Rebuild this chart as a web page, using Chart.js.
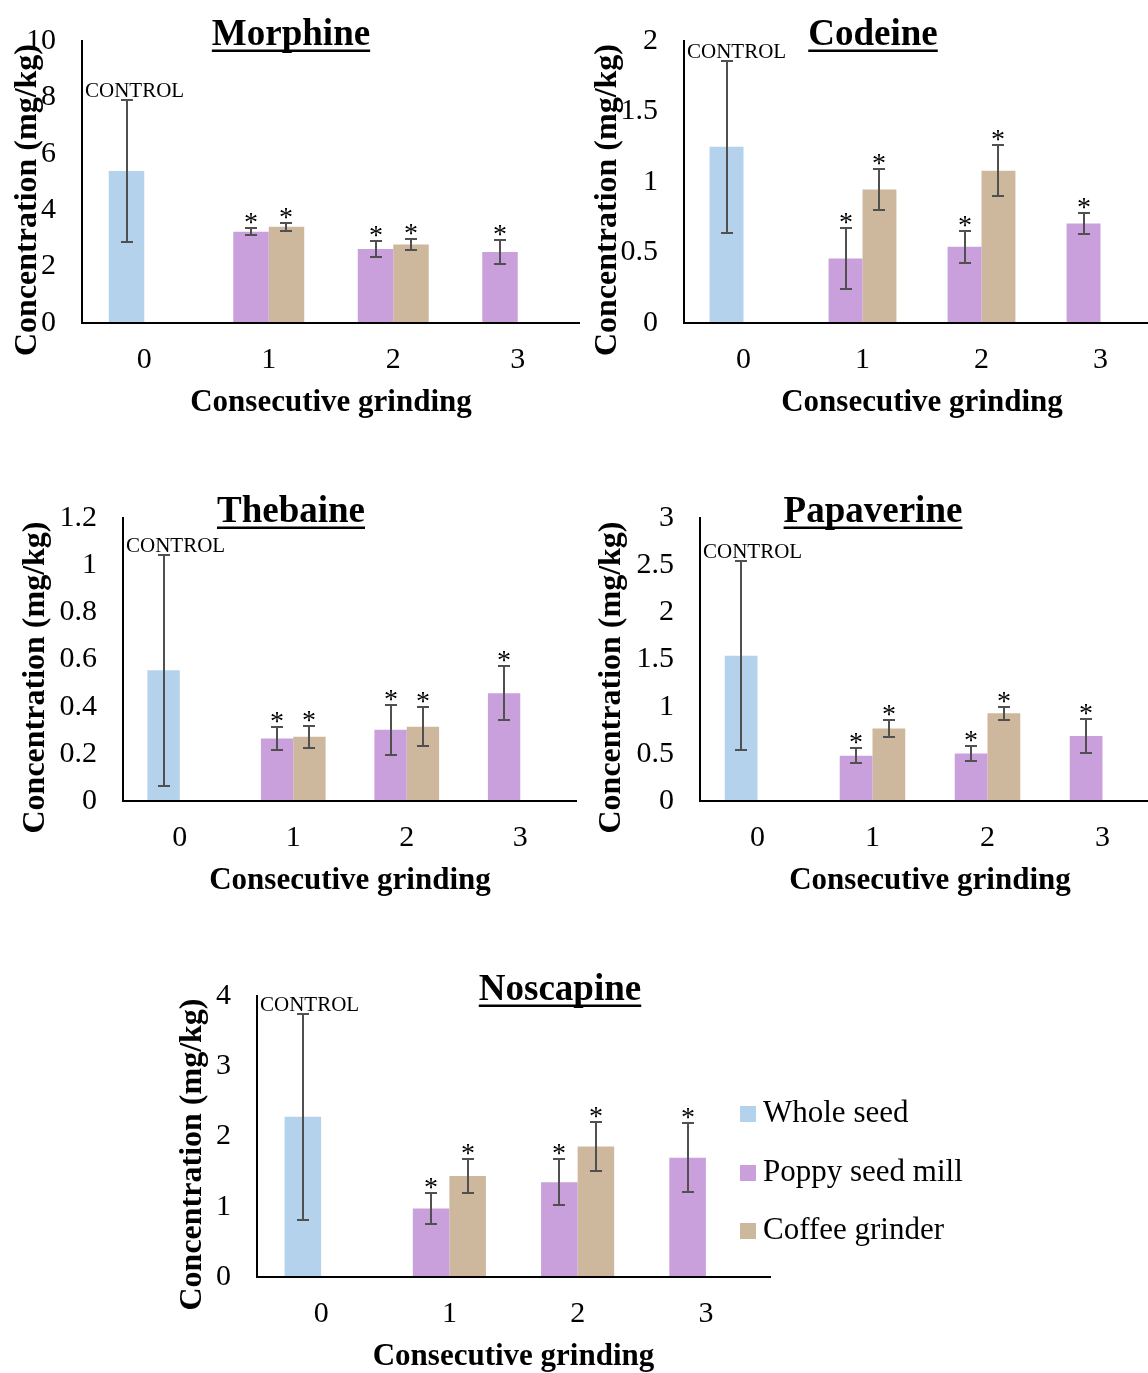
<!DOCTYPE html>
<html>
<head>
<meta charset="utf-8">
<title>Alkaloid concentration after consecutive grinding</title>
<script src="https://cdn.jsdelivr.net/npm/chart.js@4.4.1/dist/chart.umd.min.js"></script>
<style>
  html, body { margin: 0; padding: 0; background: #fff; }
  body { width: 1148px; height: 1373px; position: relative; overflow: hidden; }
  canvas { position: absolute; }
</style>
</head>
<body>
<canvas id="morphine"></canvas>
<canvas id="codeine"></canvas>
<canvas id="thebaine"></canvas>
<canvas id="papaverine"></canvas>
<canvas id="noscapine"></canvas>
<script>
// Data
const grindings = ['0', '1', '2', '3'];
const compounds = ['Morphine', 'Codeine', 'Thebaine', 'Papaverine', 'Noscapine'];
const seriesNames = ['Whole seed', 'Poppy seed mill', 'Coffee grinder'];

// whole seed (control), one value per compound
const wholeSeed = [5.39, 1.25, 0.554, 1.54, 2.28];
const wholeSeedErr = [2.51, 0.61, 0.49, 1.0, 1.47];

// poppy seed mill, grinding 1..3
const poppyMill = [
  [3.24, 2.62, 2.52],
  [0.458, 0.54, 0.706],
  [0.265, 0.302, 0.457],
  [0.479, 0.503, 0.688],
  [0.975, 1.349, 1.699]
];
const poppyMillErr = [
  [0.135, 0.28, 0.43],
  [0.218, 0.112, 0.072],
  [0.05, 0.105, 0.115],
  [0.079, 0.082, 0.176],
  [0.22, 0.325, 0.488]
];

// coffee grinder, grinding 1..2
const coffeeGrinder = [
  [3.41, 2.78],
  [0.946, 1.079],
  [0.272, 0.315],
  [0.769, 0.929],
  [1.437, 1.857]
];
const coffeeGrinderErr = [
  [0.145, 0.2],
  [0.148, 0.18],
  [0.047, 0.083],
  [0.087, 0.066],
  [0.247, 0.345]
];

const yMax = [10, 2, 1.2, 3, 4];
const yStep = [2, 0.5, 0.2, 0.5, 1];

const colors = ['#b4d2eb', '#c9a0dc', '#cdb89e'];

// where each panel's plot area sits on the page
const panels = [
  { id: 'morphine',   left: 82,  top: 37,  right: 580,  bottom: 323,  yTitleX: 28,  titleX: 291 },
  { id: 'codeine',    left: 684, top: 37,  right: 1160, bottom: 323,  yTitleX: 608, titleX: 873 },
  { id: 'thebaine',   left: 123, top: 514, right: 577,  bottom: 801,  yTitleX: 36,  titleX: 291 },
  { id: 'papaverine', left: 700, top: 514, right: 1160, bottom: 801,  yTitleX: 612, titleX: 873 },
  { id: 'noscapine',  left: 257, top: 992, right: 770,  bottom: 1277, yTitleX: 193, titleX: 560, extraRight: 230 }
];

Chart.defaults.font.family = "'Liberation Serif', 'Times New Roman', serif";
Chart.defaults.color = '#000';

// error bars, asterisks, CONTROL tag, titles and legend
const extras = {
  id: 'extras',
  afterDatasetsDraw(chart, args, opts) {
    const ctx = chart.ctx;
    const area = chart.chartArea;
    const yScale = chart.scales.y;
    const fam = Chart.defaults.font.family;
    ctx.save();
    chart.data.datasets.forEach((ds, di) => {
      const meta = chart.getDatasetMeta(di);
      meta.data.forEach((bar, j) => {
        const v = ds.data[j];
        if (v == null) return;
        const e = ds.errors[j];
        const x = Math.round(bar.x);
        const yTop = Math.round(yScale.getPixelForValue(v + e));
        const yBot = Math.round(yScale.getPixelForValue(v - e));
        ctx.strokeStyle = '#505050';
        ctx.lineWidth = 2;
        ctx.beginPath();
        ctx.moveTo(x, yTop); ctx.lineTo(x, yBot);
        ctx.moveTo(x - 6, yTop); ctx.lineTo(x + 6, yTop);
        ctx.moveTo(x - 6, yBot); ctx.lineTo(x + 6, yBot);
        ctx.stroke();
        ctx.fillStyle = '#000';
        ctx.textBaseline = 'alphabetic';
        if (ds.star) {
          ctx.font = '28px ' + fam;
          ctx.textAlign = 'center';
          ctx.fillText('*', x, yTop + 3);
        }
        if (ds.control) {
          ctx.font = '21px ' + fam;
          ctx.textAlign = 'left';
          ctx.fillText('CONTROL', area.left + 3, yTop - 3);
        }
      });
    });

    // panel title, underlined
    ctx.font = 'bold 37px ' + fam;
    ctx.textAlign = 'center';
    ctx.textBaseline = 'alphabetic';
    ctx.fillStyle = '#000';
    const ty = area.top + 3.5;
    ctx.fillText(opts.title, opts.titleX, ty);
    const w = ctx.measureText(opts.title).width;
    ctx.fillRect(opts.titleX - w / 2, ty + 5, w, 2.5);

    // y axis title, sits a little below the middle of the axis as in the figure
    ctx.save();
    ctx.translate(opts.yTitleX, (area.top + area.bottom) / 2 + 18);
    ctx.rotate(-Math.PI / 2);
    ctx.font = 'bold 32px ' + fam;
    ctx.textBaseline = 'middle';
    ctx.fillText(opts.yTitle, 0, 0);
    ctx.restore();

    if (opts.legend) {
      const lx = area.right - 30;
      const rows = [area.bottom - 163, area.bottom - 104, area.bottom - 46];
      ctx.font = '31px ' + fam;
      ctx.textAlign = 'left';
      ctx.textBaseline = 'middle';
      chart.data.datasets.forEach((ds, di) => {
        ctx.fillStyle = ds.backgroundColor;
        ctx.fillRect(lx, rows[di] - 8, 16, 16);
        ctx.fillStyle = '#000';
        ctx.fillText(ds.label, lx + 23, rows[di]);
      });
    }
    ctx.restore();
  }
};

panels.forEach((p, i) => {
  const canvas = document.getElementById(p.id);
  const extraRight = p.extraRight || 0;
  const cLeft = Math.round(p.yTitleX - 20);
  const cTop = p.top - 40;
  canvas.width = p.right + extraRight - cLeft;
  canvas.height = p.bottom + 100 - cTop;
  canvas.style.left = cLeft + 'px';
  canvas.style.top = cTop + 'px';

  const datasets = [
    {
      label: seriesNames[0],
      data: [wholeSeed[i], null, null, null],
      errors: [wholeSeedErr[i], null, null, null],
      backgroundColor: colors[0],
      stack: 'a',
      control: true
    },
    {
      label: seriesNames[1],
      data: [null].concat(poppyMill[i]),
      errors: [null].concat(poppyMillErr[i]),
      backgroundColor: colors[1],
      stack: 'a',
      star: true
    },
    {
      label: seriesNames[2],
      data: [null].concat(coffeeGrinder[i], [null]),
      errors: [null].concat(coffeeGrinderErr[i], [null]),
      backgroundColor: colors[2],
      stack: 'b',
      star: true
    }
  ];

  new Chart(canvas, {
    type: 'bar',
    data: { labels: grindings, datasets: datasets },
    options: {
      responsive: false,
      animation: false,
      layout: { padding: { top: 40, left: 0, right: extraRight, bottom: 0 } },
      datasets: { bar: { categoryPercentage: 0.57, barPercentage: 1 } },
      plugins: {
        legend: { display: false },
        tooltip: { enabled: false },
        extras: {
          title: compounds[i],
          titleX: p.titleX - cLeft,
          yTitle: 'Concentration (mg/kg)',
          yTitleX: p.yTitleX - cLeft,
          legend: i === 4
        }
      },
      scales: {
        x: {
          grid: { display: false, drawTicks: false },
          border: { display: true, color: '#000', width: 2, z: 1 },
          ticks: { font: { size: 30 }, padding: 19 },
          title: {
            display: true,
            text: 'Consecutive grinding',
            font: { size: 31, weight: 'bold' },
            padding: { top: 0, bottom: 1 }
          },
          afterFit: (s) => { s.height = 100; }
        },
        y: {
          min: 0,
          max: yMax[i],
          grid: { display: false, drawTicks: false },
          border: { display: true, color: '#000', width: 2, z: 1 },
          ticks: {
            stepSize: yStep[i],
            font: { size: 30 },
            padding: 26,
            callback: (v) => String(+v.toFixed(2))
          },
          afterFit: (s) => { s.width = p.left - cLeft; }
        }
      }
    },
    plugins: [extras]
  });
});
</script>
</body>
</html>
